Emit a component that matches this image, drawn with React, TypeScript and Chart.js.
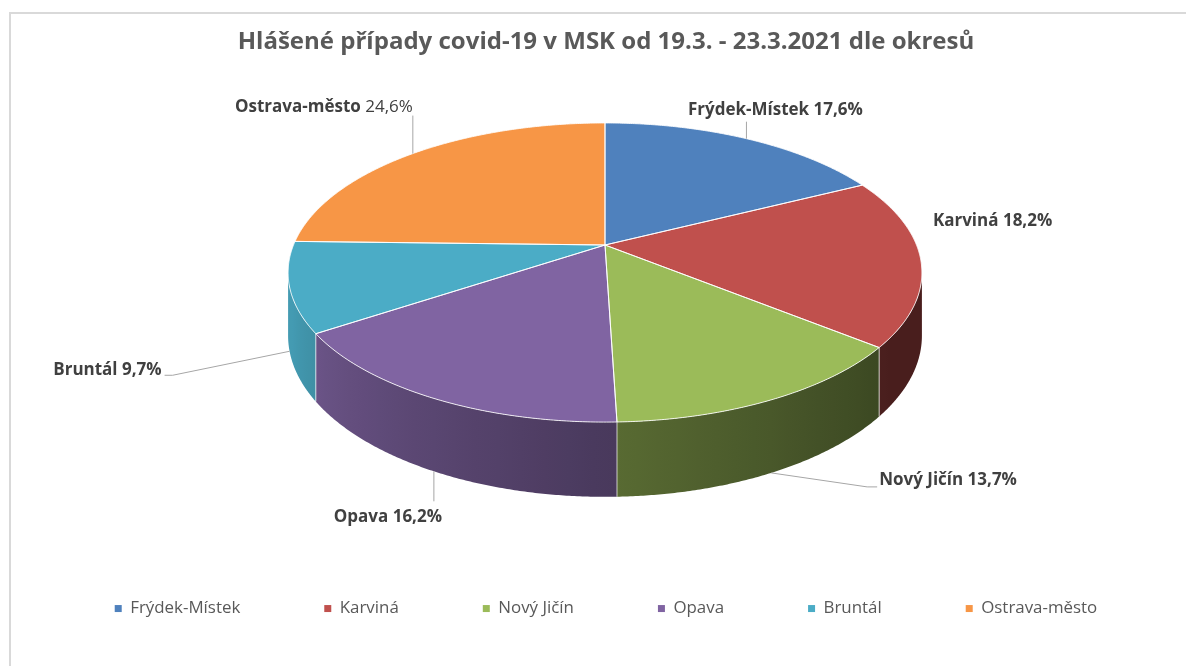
import React, { useEffect, useRef } from "react";
import { Chart, registerables } from "chart.js";

Chart.register(...registerables);

// ---------- data ----------
const TITLE = "Hlášené případy covid-19 v MSK od 19.3. - 23.3.2021 dle okresů";
const districts = ["Frýdek-Místek", "Karviná", "Nový Jičín", "Opava", "Bruntál", "Ostrava-město"];
const shares = [17.6, 18.2, 13.7, 16.2, 9.7, 24.6];
const colors = ["#4F81BD", "#C0504D", "#9BBB59", "#8064A2", "#4BACC6", "#F79646"];

// ---------- layout / style ----------
const FAMILY = "'Open Sans', 'Noto Sans', sans-serif";
const W = 1186;
const H = 666;
// perspective projection of the pie disk
const GEO = { cx: 605, cy: 245, a: 311.5, b: 144.5, k: 0.184, h: 61 };
// label placement relative to the slice anchor (top or bottom rim point at mid angle)
const labelLayout = [
  { anchor: "top", dx: 29, dy: -29, align: "center", leader: [[0, -17]], boldPct: true },
  { anchor: "top", dx: 12, dy: -40, align: "left", leader: [], boldPct: true },
  { anchor: "bottom", dx: 108, dy: 7, align: "left", leader: [[96, 14], [106, 14]], boldPct: true },
  { anchor: "bottom", dx: -46, dy: 46, align: "center", leader: [[0, 30]], boldPct: true },
  { anchor: "bottom", dx: -128, dy: 19, align: "right", leader: [[-117, 24], [-125, 24]], boldPct: true },
  { anchor: "top", dx: 0, dy: -46, align: "right", leader: [[0, -38]], boldPct: false },
];

function measure(texts: string[], weight: string) {
  const c = document.createElement("canvas").getContext("2d")!;
  c.font = `${weight} 100px ${FAMILY}`;
  return texts.reduce((s, t) => s + c.measureText(t).width, 0);
}
function fitSize(texts: string[], weight: string, target: number) {
  return (100 * target) / measure(texts, weight);
}

function proj(th: number, drop: number) {
  const u = Math.sin(th);
  const v = Math.cos(th);
  const w = 1 + GEO.k * v;
  return [GEO.cx + (GEO.a * u) / w, GEO.cy + (-GEO.b * v + drop * GEO.h) / w];
}

function hexRgb(hex: string) {
  const n = parseInt(hex.slice(1), 16);
  return [(n >> 16) & 255, (n >> 8) & 255, n & 255];
}

function shade(hex: string, th: number) {
  const deg = (th * 180) / Math.PI;
  const t = Math.min(1, Math.max(0, (deg - 125) / 125));
  const f = 0.38 + 0.52 * Math.pow(t, 1.2);
  const [r, g, b] = hexRgb(hex);
  return `rgb(${Math.round(r * f)},${Math.round(g * f)},${Math.round(b * f)})`;
}

function fmtPct(v: number) {
  return v.toFixed(1).replace(".", ",") + "%";
}

export default function App() {
  const ref = useRef<HTMLCanvasElement | null>(null);

  useEffect(() => {
    if (!ref.current) return;
    const titleSize = fitSize([TITLE], "bold", 737);
    const labelSize = fitSize(["Frýdek-Místek 17,6%"], "bold", 175);
    const legendPad = 84;
    const legendBox = 7;
    // total legend text width so that the row spans the reference width
    let legendSize = 16;
    for (let it = 0; it < 5; it++) {
      const target = 983 - 5 * legendPad - 6 * (legendBox + legendSize / 2);
      legendSize = fitSize(districts, "normal", target);
    }
    const layoutTop = 14;

    const pie3d = {
      id: "pie3d",
      beforeDraw(chart: any) {
        const ctx = chart.ctx;
        ctx.save();
        ctx.strokeStyle = "#d9d9d9";
        ctx.lineWidth = 2;
        ctx.strokeRect(10, 13, W + 50, H + 50);
        ctx.restore();
      },
      beforeDatasetsDraw(chart: any) {
        const ctx = chart.ctx;
        const meta = chart.getDatasetMeta(0);
        const ds = chart.data.datasets[0];
        const slices = meta.data.map((arc: any, i: number) => ({
          s: arc.startAngle + Math.PI / 2,
          e: arc.endAngle + Math.PI / 2,
          color: ds.backgroundColor[i] as string,
        }));
        const thL = Math.acos(-GEO.k);
        const thR = 2 * Math.PI - thL;
        const step = (0.4 * Math.PI) / 180;
        ctx.save();
        // side walls, one path per slice with a horizontal gradient
        slices.forEach((sl: any) => {
          const a0 = Math.max(sl.s, thL);
          const a1 = Math.min(sl.e, thR);
          if (a1 <= a0) return;
          const n = Math.max(4, Math.ceil((a1 - a0) / step));
          ctx.beginPath();
          for (let j = 0; j <= n; j++) {
            const p = proj(a0 + ((a1 - a0) * j) / n, 0);
            if (j === 0) ctx.moveTo(p[0], p[1]);
            else ctx.lineTo(p[0], p[1]);
          }
          for (let j = n; j >= 0; j--) {
            const p = proj(a0 + ((a1 - a0) * j) / n, 1);
            ctx.lineTo(p[0], p[1]);
          }
          ctx.closePath();
          const x0 = proj(a0, 0)[0];
          const x1 = proj(a1, 0)[0];
          const grad = ctx.createLinearGradient(x0, 0, x1, 0);
          const m = 16;
          for (let j = 0; j <= m; j++) {
            const t = a0 + ((a1 - a0) * j) / m;
            const off = Math.min(1, Math.max(0, (proj(t, 0)[0] - x0) / (x1 - x0)));
            grad.addColorStop(off, shade(sl.color, t));
          }
          ctx.fillStyle = grad;
          ctx.fill();
        });
        // boundary lines on walls
        ctx.strokeStyle = "rgba(255,255,255,0.7)";
        ctx.lineWidth = 1;
        slices.forEach((sl: any) => {
          const t = sl.s;
          if (t > thL && t < thR) {
            const p1 = proj(t, 0), p2 = proj(t, 1);
            ctx.beginPath();
            ctx.moveTo(p1[0], p1[1]);
            ctx.lineTo(p2[0], p2[1]);
            ctx.stroke();
          }
        });
        // top faces
        const facePath = (sl: any) => {
          ctx.beginPath();
          ctx.moveTo(GEO.cx, GEO.cy);
          const n = Math.max(2, Math.ceil((sl.e - sl.s) / step));
          for (let j = 0; j <= n; j++) {
            const p = proj(sl.s + ((sl.e - sl.s) * j) / n, 0);
            ctx.lineTo(p[0], p[1]);
          }
          ctx.closePath();
        };
        slices.forEach((sl: any) => {
          facePath(sl);
          ctx.fillStyle = sl.color;
          ctx.fill();
        });
        slices.forEach((sl: any) => {
          facePath(sl);
          ctx.strokeStyle = "rgba(255,255,255,0.85)";
          ctx.lineWidth = 1;
          ctx.stroke();
        });
        // labels
        ctx.textBaseline = "middle";
        slices.forEach((sl: any, i: number) => {
          const L = labelLayout[i];
          const mid = (sl.s + sl.e) / 2;
          const anc = proj(mid, L.anchor === "top" ? 0 : 1);
          if (L.leader.length) {
            ctx.beginPath();
            ctx.strokeStyle = "#a6a6a6";
            ctx.lineWidth = 1;
            ctx.moveTo(anc[0], anc[1]);
            L.leader.forEach((p: number[]) => ctx.lineTo(anc[0] + p[0], anc[1] + p[1]));
            ctx.stroke();
          }
          const name = chart.data.labels[i] as string;
          const pct = fmtPct(ds.data[i] as number);
          const boldFont = `bold ${labelSize}px ${FAMILY}`;
          const pctFont = `${L.boldPct ? "bold" : "normal"} ${labelSize}px ${FAMILY}`;
          ctx.font = boldFont;
          const w1 = ctx.measureText(name + " ").width;
          ctx.font = pctFont;
          const w2 = ctx.measureText(pct).width;
          const total = w1 + w2;
          let x = anc[0] + L.dx;
          if (L.align === "center") x -= total / 2;
          else if (L.align === "right") x -= total;
          const y = anc[1] + L.dy;
          ctx.fillStyle = "#404040";
          ctx.textAlign = "left";
          ctx.font = boldFont;
          ctx.fillText(name + " ", x, y);
          ctx.font = pctFont;
          ctx.fillText(pct, x + w1, y);
        });
        ctx.restore();
        return false;
      },
    };

    const chart = new Chart(ref.current, {
      type: "pie",
      data: {
        labels: districts,
        datasets: [
          {
            data: shares,
            backgroundColor: colors,
            borderWidth: 0,
          },
        ],
      },
      options: {
        responsive: false,
        devicePixelRatio: 1,
        animation: false,
        layout: { padding: { top: layoutTop, left: 26, right: 0, bottom: 39 } },
        plugins: {
          title: {
            display: true,
            text: TITLE,
            color: "#595959",
            font: { family: FAMILY, size: titleSize, weight: "bold" },
            padding: { top: 42 - layoutTop - titleSize * 0.6, bottom: 10 },
          },
          legend: {
            position: "bottom",
            labels: {
              boxWidth: legendBox,
              boxHeight: legendBox,
              padding: legendPad,
              color: "#595959",
              font: { family: FAMILY, size: legendSize },
            },
          },
          tooltip: { enabled: false },
        },
      },
      plugins: [pie3d],
    } as any);
    return () => chart.destroy();
  }, []);

  return (
    <div style={{ position: "fixed", left: 0, top: 0, width: W, height: H, background: "#fff" }}>
      <canvas ref={ref} width={W} height={H} style={{ display: "block" }} />
    </div>
  );
}
